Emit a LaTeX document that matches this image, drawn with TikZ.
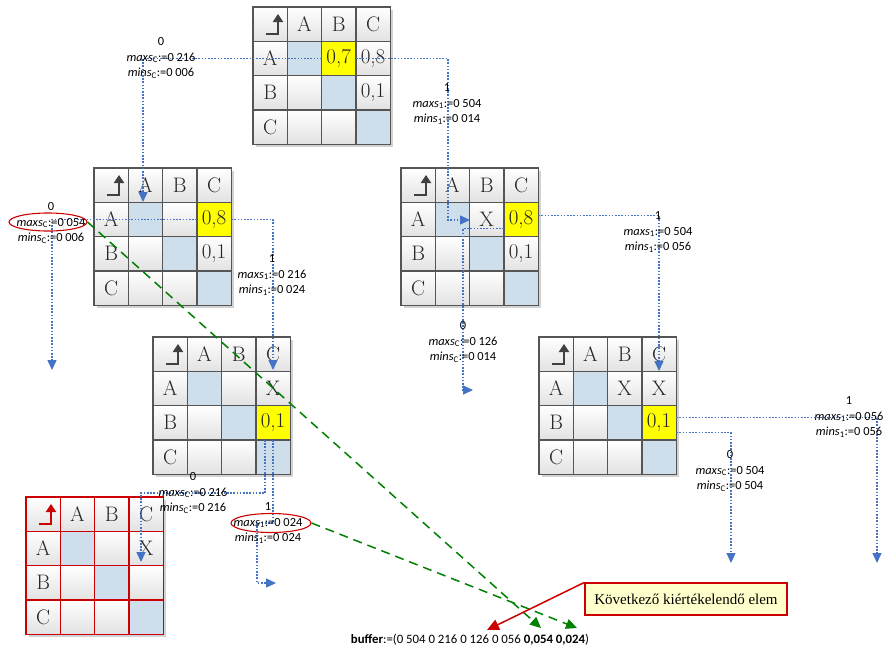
\documentclass[tikz,border=0pt]{standalone}
\usepackage{fontspec}
\newfontfamily\lblfont{Carlito}
\newfontfamily\boxfont{Liberation Serif}
\usetikzlibrary{arrows.meta,shapes.geometric}
\definecolor{cellline}{RGB}{85,85,85}
\definecolor{redline}{RGB}{204,0,0}
\definecolor{diagblue}{RGB}{207,222,235}
\definecolor{hlyellow}{RGB}{255,255,0}
\definecolor{cellgray}{RGB}{226,226,226}
\definecolor{shadowgray}{RGB}{210,210,210}
\definecolor{dotblue}{RGB}{68,114,196}
\definecolor{dashgreen}{RGB}{0,128,0}
\definecolor{calloutfill}{RGB}{255,255,204}
\definecolor{arrowgray}{RGB}{64,64,64}
\tikzset{
  cellbase/.style={rectangle,minimum size=34.3,inner sep=0,outer sep=0,line width=1.3},
  plaincell/.style={cellbase,top color=white,bottom color=cellgray},
  diagcell/.style={cellbase,fill=diagblue},
  hlcell/.style={cellbase,fill=hlyellow},
  celltext/.style={font=\fontsize{21}{21}\selectfont,text=black!85,inner sep=0},
  cornerarr/.style={line width=2,-{Triangle[length=8,width=10]}},
  matshadow/.style={fill=shadowgray},
  lbl/.style={font=\lblfont\fontsize{12.4}{15.5}\selectfont,align=center,inner sep=0},
  flow/.style={draw=dotblue,line width=1.4,dash pattern=on 1.6pt off 1.6pt,-{Triangle[length=10,width=9]}},
  greenarr/.style={draw=dashgreen,line width=1.5,dash pattern=on 9pt off 6pt,-{Triangle[length=11,width=10]}},
  redarr/.style={draw=redline,line width=1.5,-{Triangle[length=12,width=11]}},
  redell/.style={ellipse,draw=redline,line width=1.1,inner sep=0},
}
\newcommand\gridmat[5]{%
  \fill[matshadow] ({#2+3},{#3+3}) rectangle ({#2+140.2},{#3+140.2});
  \foreach \r in {0,1,2,3}{\foreach \c in {0,1,2,3}{%
    \node[plaincell,draw=#4] (#1-\r\c) at ({#2+17.15+\c*34.3},{#3+17.15+\r*34.3}) {};
  }}
  \foreach \i in {1,2,3}{%
    \node[diagcell,draw=#4] (#1-d\i) at ({#2+17.15+\i*34.3},{#3+17.15+\i*34.3}) {};
  }
  \node[celltext] at (#1-01) {A};
  \node[celltext] at (#1-02) {B};
  \node[celltext] at (#1-03) {C};
  \node[celltext] at (#1-10) {A};
  \node[celltext] at (#1-20) {B};
  \node[celltext] at (#1-30) {C};
  \draw[cornerarr,#5] ({#2+13},{#3+27}) -- ({#2+25},{#3+27}) -- ({#2+25},{#3+7});
}
\begin{document}
\begin{tikzpicture}[x=1pt,y=-1pt]
\useasboundingbox (0,0) rectangle (887,649);

% matrices
\gridmat{m1}{253}{7}{cellline}{arrowgray}
\gridmat{m2}{94}{168}{cellline}{arrowgray}
\gridmat{m3}{401}{168}{cellline}{arrowgray}
\gridmat{m4}{153}{337}{cellline}{arrowgray}
\gridmat{m5}{539}{337}{cellline}{arrowgray}
\gridmat{m6}{26}{497}{redline}{redline}

% highlighted cells
\node[hlcell,draw=cellline] (m1-hl) at (m1-12) {};
\node[hlcell,draw=cellline] (m2-hl) at (m2-13) {};
\node[hlcell,draw=cellline] (m3-hl) at (m3-13) {};
\node[hlcell,draw=cellline] (m4-hl) at (m4-23) {};
\node[hlcell,draw=cellline] (m5-hl) at (m5-23) {};

% cell contents
\node[celltext] at (m1-hl) {0,7};
\node[celltext] at (m1-13) {0,8};
\node[celltext] at (m1-23) {0,1};
\node[celltext] at (m2-hl) {0,8};
\node[celltext] at (m2-23) {0,1};
\node[celltext] at (m3-12) {X};
\node[celltext] at (m3-hl) {0,8};
\node[celltext] at (m3-23) {0,1};
\node[celltext] at (m4-13) {X};
\node[celltext] at (m4-hl) {0,1};
\node[celltext] at (m5-12) {X};
\node[celltext] at (m5-13) {X};
\node[celltext] at (m5-hl) {0,1};
\node[celltext] at (m6-13) {X};

% coordinates for connector corners and free ends
\coordinate (e1) at (143,202);
\coordinate (k2) at (448,220);
\coordinate (e2) at (470,220);
\coordinate (e3) at (52,370);
\coordinate (e4) at (273,370);
\coordinate (e5) at (659,371);
\coordinate (k6) at (463,390);
\coordinate (e6) at (473,390);
\coordinate (k7) at (141,493);
\coordinate (e7) at (141,562);
\coordinate (k8) at (257,523);
\coordinate (k8b) at (257,583);
\coordinate (e8) at (276,583);
\coordinate (e9) at (877,563);
\coordinate (e10) at (731,563);

% blue dotted connectors
\draw[flow] (m1-hl.west) -| (e1);
\draw[flow] (m1-hl.east) -| (k2) -- (e2);
\draw[flow] (m2-hl.west) -| (e3);
\draw[flow] (m2-hl.east) -| (e4);
\draw[flow] ([yshift=4]m3-hl.east) -| (e5);
\draw[flow] ([yshift=8]m3-hl.south west) -| (k6) -- (e6);
\draw[flow] ([xshift=-8]m4-hl.south) |- (k7) -- (e7);
\draw[flow] (m4-hl.south) |- (k8) -- (k8b) -- (e8);
\draw[flow] ([yshift=5.5]m5-hl.east) -| (e9);
\draw[flow] ([yshift=-10]m5-hl.east) -| (e10);

% labels
\node[lbl] (l1) at (161,58) {0\\\textit{maxs}\textsubscript{C}:=0 216\\\textit{mins}\textsubscript{C}:=0 006};
\node[lbl] (l2) at (447,104) {1\\\textit{maxs}\textsubscript{1}:=0 504\\\textit{mins}\textsubscript{1}:=0 014};
\node[lbl] (l3) at (51,223) {0\\\textit{maxs}\textsubscript{C}:=0 054\\\textit{mins}\textsubscript{C}:=0 006};
\node[lbl] (l4) at (272,275) {1\\\textit{maxs}\textsubscript{1}:=0 216\\\textit{mins}\textsubscript{1}:=0 024};
\node[lbl] (l5) at (658,232) {1\\\textit{maxs}\textsubscript{1}:=0 504\\\textit{mins}\textsubscript{1}:=0 056};
\node[lbl] (l6) at (463,342) {0\\\textit{maxs}\textsubscript{C}:=0 126\\\textit{mins}\textsubscript{C}:=0 014};
\node[lbl] (l7) at (193,493) {0\\\textit{maxs}\textsubscript{C}:=0 216\\\textit{mins}\textsubscript{C}:=0 216};
\node[lbl] (l8) at (268,523) {1\\\textit{maxs}\textsubscript{1}:=0 024\\\textit{mins}\textsubscript{1}:=0 024};
\node[lbl] (l9) at (849,417) {1\\\textit{maxs}\textsubscript{1}:=0 056\\\textit{mins}\textsubscript{1}:=0 056};
\node[lbl] (l10) at (730,471) {0\\\textit{maxs}\textsubscript{C}:=0 504\\\textit{mins}\textsubscript{C}:=0 504};

% red ellipses
\node[redell,minimum width=78,minimum height=18] (el3) at (48,222) {};
\node[redell,minimum width=80,minimum height=19] (el8) at (271,523) {};

% buffer and callout
\node[font=\lblfont\fontsize{12.8}{14}\selectfont,inner sep=0] (buffer) at (470,640)
  {\textbf{buffer}:=(0 504 0 216 0 126 0 056 \textbf{0,054 0,024})};
\node[draw=redline,fill=calloutfill,line width=1.2,minimum width=202,minimum height=32,inner sep=0,
      font=\boxfont\fontsize{15}{15}\selectfont] (callout) at (686,599) {Következő kiértékelendő elem};

\coordinate (g1) at (541,628);
\coordinate (g2) at (577,628);
\coordinate (r1) at (487,630);
\draw[greenarr] (el3.east) -- (g1);
\draw[greenarr] (el8.east) -- (g2);
\draw[redarr] (callout.north west) -- (r1);
\end{tikzpicture}
\end{document}
